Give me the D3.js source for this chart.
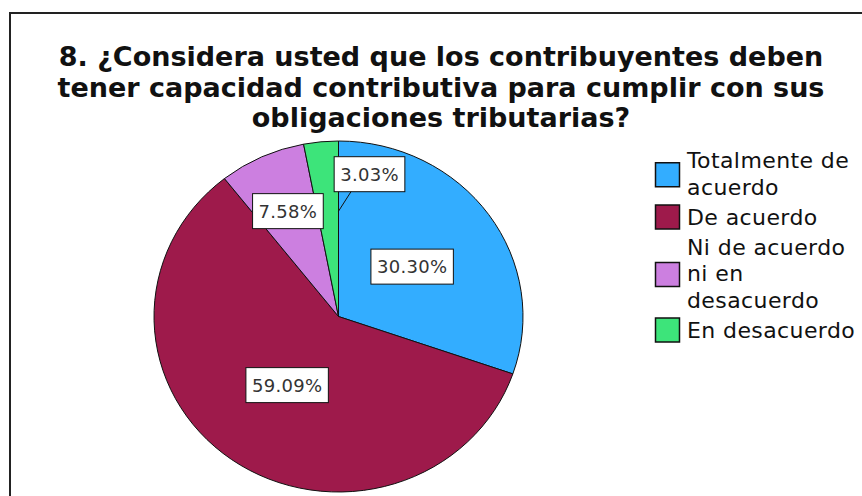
<!DOCTYPE html>
<html>
<head>
    <meta charset="UTF-8">
    <title>Capacidad contributiva</title>
</head>
<style>
    body { margin: 0; background: #fff; }
    .slices path { stroke: #111; stroke-width: 1px; vector-effect: non-scaling-stroke; }
    .labels rect { fill: #fff; stroke: #111; stroke-width: 1px; }
    .labels text { font: 18px "DejaVu Sans", sans-serif; fill: #333; letter-spacing: 0.3px; }
    .legend text { font: 22px "DejaVu Sans", sans-serif; fill: #111; letter-spacing: 0.4px; }
    .title text { font: bold 27px "DejaVu Sans", sans-serif; fill: #111; }
</style>
<body>
<svg width="862" height="496"></svg>
<script src="https://cdn.jsdelivr.net/npm/d3@7/dist/d3.min.js"></script>
<script>

    // data
    var categories = ["Totalmente de acuerdo", "De acuerdo", "Ni de acuerdo ni en desacuerdo", "En desacuerdo"];
    var counts = [20, 39, 5, 2];
    var percentLabels = ["30.30%", "59.09%", "7.58%", "3.03%"];
    var legendLines = [["Totalmente de", "acuerdo"], ["De acuerdo"], ["Ni de acuerdo", "ni en", "desacuerdo"], ["En desacuerdo"]];
    var titleLines = ["8. ¿Considera usted que los contribuyentes deben",
                      "tener capacidad contributiva para cumplir con sus",
                      "obligaciones tributarias?"];

    var colors = ["#33adff", "#9e1a4b", "#cc7fe0", "#3de47a"];

    var svg = d3.select("svg");

    // frame
    svg.append("rect")
        .attr("x", 10).attr("y", 13)
        .attr("width", 900).attr("height", 600)
        .attr("fill", "none")
        .attr("stroke", "#222")
        .attr("stroke-width", 2);

    // title
    var title = svg.append("g").attr("class", "title");
    title.selectAll("text")
        .data(titleLines)
        .enter().append("text")
        .attr("x", 441)
        .attr("y", function(d, i) { return 66 + i * 30.5; })
        .attr("text-anchor", "middle")
        .text(function(d) { return d; });

    // pie (slightly squashed vertically like the original)
    var cx = 338.5, cy = 316.5, rx = 184.5, ry = 175.5;
    var sy = ry / rx;

    var color = d3.scaleOrdinal().domain(categories).range(colors);

    var pie = d3.pie().sort(null).value(function(d) { return d.value; });
    var arcs = pie(categories.map(function(c, i) { return { name: c, value: counts[i], label: percentLabels[i] }; }));

    var arc = d3.arc().innerRadius(0).outerRadius(rx);

    svg.append("g")
        .attr("class", "slices")
        .attr("transform", "translate(" + cx + "," + cy + ") scale(1," + sy + ")")
        .selectAll("path")
        .data(arcs)
        .enter().append("path")
        .attr("d", arc)
        .attr("fill", function(d) { return color(d.data.name); });

    // label placement: fraction of radius along mid angle
    var labelK = [0.49, 0.48, 0.66, 0.6];

    function pointAt(angle, k) {
        return [cx + k * rx * Math.sin(angle), cy - k * ry * Math.cos(angle)];
    }

    var labels = svg.append("g").attr("class", "labels");

    arcs.forEach(function(d, i) {
        var small = (d.endAngle - d.startAngle) < 0.25;
        var anchor, center;
        if (small) {
            anchor = pointAt(d.endAngle, labelK[i]);
            center = [anchor[0] + 31, anchor[1] - 37];
        } else {
            anchor = pointAt((d.startAngle + d.endAngle) / 2, labelK[i]);
            center = anchor;
        }

        var g = labels.append("g");
        var rect = g.append("rect");
        var t = g.append("text")
            .attr("x", center[0])
            .attr("y", center[1])
            .attr("dy", "0.36em")
            .attr("text-anchor", "middle")
            .text(d.data.label);

        var w = t.node().getComputedTextLength() + 12, h = 35;
        rect.attr("x", center[0] - w / 2)
            .attr("y", center[1] - h / 2)
            .attr("width", w)
            .attr("height", h);

        if (small) {
            labels.append("line")
                .attr("x1", center[0] - 18.5).attr("y1", center[1] + h / 2)
                .attr("x2", anchor[0]).attr("y2", anchor[1])
                .attr("stroke", "#111")
                .attr("stroke-width", 1);
        }
    });

    // legend
    var legend = svg.append("g").attr("class", "legend");
    var lineH = 26.5, itemGap = 3.5;
    var y = 168;
    categories.forEach(function(c, i) {
        var lines = legendLines[i];
        var top = y - 17;
        var bottom = y + (lines.length - 1) * lineH;
        var mid = (top + bottom) / 2;
        legend.append("rect")
            .attr("x", 655.5)
            .attr("y", mid - 12 + (lines.length > 1 ? 2 : 1))
            .attr("width", 24)
            .attr("height", 24)
            .attr("fill", color(c))
            .attr("stroke", "#111")
            .attr("stroke-width", 1.5);
        lines.forEach(function(l, j) {
            legend.append("text")
                .attr("x", 687)
                .attr("y", y + j * lineH)
                .text(l);
        });
        y = bottom + lineH + itemGap;
    });

</script>
</body>
</html>
